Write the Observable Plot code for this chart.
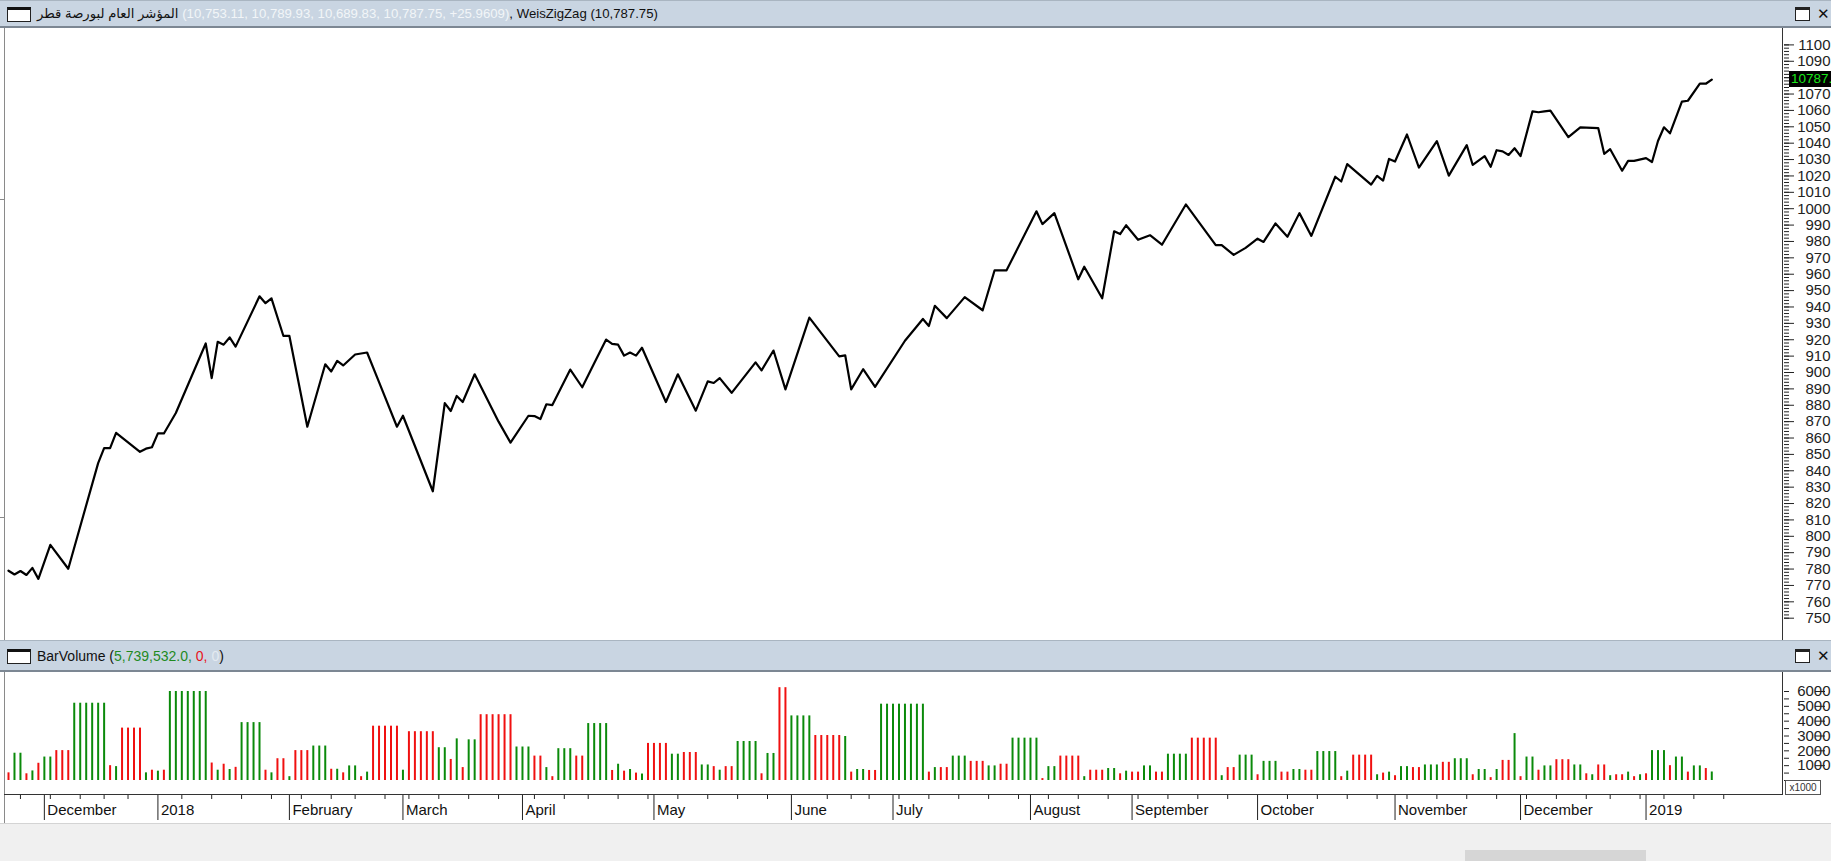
<!DOCTYPE html>
<html lang="en">
<head>
<meta charset="utf-8">
<title>WeisZigZag</title>
<script src="https://cdn.jsdelivr.net/npm/d3@7"></script>
<script src="https://cdn.jsdelivr.net/npm/@observablehq/plot@0.6"></script>
<style>
html, body { margin:0; padding:0; background:#fff; overflow:hidden; }
#root { position:relative; width:1831px; height:861px; overflow:hidden; font-family:"Liberation Sans", Arial, "DejaVu Sans", sans-serif; background:#fff; }
.hdr { position:absolute; left:0; width:1831px; background:#c9d5e2; box-sizing:border-box; border-top:1px solid #a9b5c1; border-bottom:2px solid #7c8793; }
.ico { position:absolute; left:7px; width:24px; height:15px; box-sizing:border-box; border:1px solid #222; border-top:3px solid #111; background:#fff; }
.txt { position:absolute; left:37px; font-size:13.2px; line-height:16px; white-space:nowrap; color:#111; }
.b1 { position:absolute; width:15px; height:14px; box-sizing:border-box; border:1px solid #222; border-top:3px solid #222; background:#fff; }
.b2 { position:absolute; font-size:15px; font-weight:bold; color:#111; line-height:16px; }
.panel { position:absolute; left:0; width:1831px; background:#fff; overflow:hidden; }
.ln { position:absolute; background:#333; }
#tag { position:absolute; left:1789px; width:44px; height:16px; background:#000; color:#19e619; font-size:13.5px; line-height:16px; padding-left:2px; white-space:nowrap; overflow:hidden; }
#unit { position:absolute; left:1785px; top:780px; width:36px; height:15px; box-sizing:border-box; border:1px solid #555; font-size:10px; line-height:13px; color:#333; text-align:center; background:#fff; }
</style>
</head>
<body>
<div id="root">
  <div class="hdr" style="top:0;height:28px">
    <span class="ico" style="top:6px"></span>
    <span class="txt" style="top:5px"><bdi dir="rtl">المؤشر العام لبورصة قطر</bdi><span style="color:#f2f5f8"> (10,753.11, 10,789.93, 10,689.83, 10,787.75, +25.9609)</span>, WeisZigZag (10,787.75)</span>
    <span class="b1" style="left:1795px;top:6px"></span>
    <span class="b2" style="left:1817px;top:5px">✕</span>
  </div>
  <div class="panel" id="main" style="top:28px;height:612px"></div>
  <div class="hdr" style="top:640px;height:32px">
    <span class="ico" style="top:8px"></span>
    <span class="txt" style="top:7px;font-size:14px">BarVolume (<span style="color:#1f8a1f">5,739,532.0,</span> <span style="color:#e8121a">0,</span> <span style="color:#e4eaf0">0</span>)</span>
    <span class="b1" style="left:1795px;top:8px"></span>
    <span class="b2" style="left:1817px;top:7px">✕</span>
  </div>
  <div class="panel" id="vol" style="top:672px;height:151px"></div>
  <div class="ln" style="left:4px;top:28px;width:1px;height:612px;background:#8a8a8a"></div>
  <div class="ln" style="left:0;top:199px;width:4px;height:1px;background:#8a8a8a"></div>
  <div class="ln" style="left:0;top:517px;width:4px;height:1px;background:#8a8a8a"></div>
  <div class="ln" style="left:4px;top:672px;width:1px;height:151px;background:#8a8a8a"></div>
  <div class="ln" style="left:1782px;top:28px;width:1px;height:612px"></div>
  <div class="ln" style="left:1782px;top:672px;width:1px;height:122px"></div>
  <div class="ln" style="left:4px;top:794px;width:1779px;height:1px"></div>
  <div class="ln" style="left:0;top:823px;width:1831px;height:38px;background:#f0f0f0;border-top:1px solid #d4d4d4"></div>
  <div class="ln" style="left:1465px;top:850px;width:181px;height:11px;background:#d6d6d6"></div>
  <div id="tag">10787.</div>
  <div id="unit">x1000</div>
</div>
<script>
// ---- price line: WeisZigZag swing points (bar index, value) ----
const zzBar = [0,1,2,3,4,5,7,10,15,16,17,18,22,23,24,25,26,28,33,34,35,36,37,38,42,43,44,46,47,50,
  53,54,55,56,58,60,62,65,66,71,73,74,75,76,78,82,84,87,88,89,90,91,94,96,98,100,101,102,103,104,
  105,106,110,112,115,117,118,119,121,125,126,128,130,134,139,140,141,143,145,150,153,154,155,157,160,163,165,167,172,173,
  175,179,180,183,185,186,187,189,191,193,197,202,203,205,207,209,210,212,214,216,218,222,223,224,228,229,230,231,232,234,
  236,239,241,244,245,247,248,249,250,251,252,253,255,256,257,258,261,263,266,267,268,270,271,272,274,275,276,277,278,280,
  281,283,284,285];
const zzValue = [7790,7767,7788,7764,7807,7740,7948,7802,8447,8538,8538,8632,8516,8535,8544,8628,8628,8753,9177,8966,9187,9170,9214,9158,9465,9423,9453,9223,9223,8669,
  9050,9006,9071,9043,9110,9122,8941,8669,8736,8275,8813,8765,8857,8820,8989,8700,8572,8736,8734,8716,8806,8801,9018,8910,9057,9201,9175,9170,9103,9122,
  9103,9151,8820,8989,8767,8946,8936,8966,8876,9062,9013,9134,8897,9335,9098,9105,8897,9020,8912,9194,9327,9284,9407,9332,9460,9380,9624,9624,9984,9906,
  9973,9569,9646,9453,9862,9845,9899,9810,9838,9780,10026,9778,9778,9718,9761,9817,9797,9910,9829,9973,9834,10195,10166,10272,10147,10200,10171,10304,10288,10453,
  10251,10413,10202,10388,10267,10321,10256,10357,10350,10328,10369,10321,10594,10589,10594,10599,10437,10497,10492,10335,10363,10232,10292,10292,10309,10285,10413,10497,10460,10654,
  10659,10763,10763,10787.75];

// ---- bar volume (thousands), one per bar ----
const volume = [
  5160,18390,18390,4520,6450,11610,15810,15810,20160,20160,
  20160,52100,52100,52100,52100,52100,52100,10000,9360,35330,
  35330,35330,35330,5160,6940,6290,6940,60000,60000,60000,
  60000,60000,60000,60000,11780,6940,10970,7420,8870,39030,
  39030,39030,39030,6940,5160,14680,14680,2580,20160,20160,
  20160,23230,23230,23230,7580,7580,5160,9840,9840,2580,
  5650,36620,36620,36620,36620,36620,6940,32900,32900,32900,
  32900,32900,22100,22100,14190,28070,8710,27420,27420,44360,
  44360,44360,44360,44360,44360,22580,22580,22580,16450,16450,
  8710,2580,21450,21450,21450,16450,16450,38390,38390,38390,
  38390,6770,10970,6290,7420,5000,4360,25000,25000,25000,
  25000,17740,17740,18870,18870,18870,10480,10480,9360,6940,
  9360,9360,26290,26290,26290,26290,4520,18230,18230,62580,
  62580,43550,43550,43550,43550,30320,30320,30320,30320,30320,
  29680,5650,7420,7420,6770,6770,51450,51450,51450,51450,
  51450,51450,51450,51450,5650,8710,8710,8710,16450,16450,
  16450,12900,12900,12900,9840,9840,10970,10970,28550,28550,
  28550,28550,28550,1290,9360,9360,16450,16450,16450,16450,
  2580,6940,6940,6940,8070,8070,4520,6290,5650,5650,
  9840,9840,5650,5650,17740,17740,17740,17740,28550,28550,
  28550,28550,28550,3230,8710,8710,17100,17100,17100,3870,
  12900,12900,12900,5650,5650,7420,7420,6940,6940,19520,
  19520,19520,19520,2580,6290,17100,17100,17100,17100,3870,
  5000,5650,3230,9360,9360,8710,8710,10480,10480,10480,
  12260,12260,14680,14680,14680,3870,7420,7420,1940,7420,
  13550,13550,31610,2580,15810,15810,6940,9840,9840,14030,
  14030,14030,10480,10480,4520,3870,10480,10480,3230,3870,
  3870,5650,2580,3870,4520,20160,20160,20160,10000,15810,
  15810,5650,9840,9840,8070,5740];
// g = up wave (green), r = down wave (red)
const barDir = ["rggrgrggrr","rggggggrgr","rrrgrgrggg","ggggrgrgrg","gggrgrrgrr",
  "rgggrgrggr","grrrrrgrrr","rrggrgrggr","rrrrrgggrr","grgggrrggg",
  "grgrgrgrrr","rggrrrggrg","rrggggrggr","rggggrrrrr","grggrrgggg",
  "ggggrgrrgg","grrrggrrgg","gggrggrrrr","grrrggrgrr","ggrrggggrr",
  "rrrgrrgggr","gggrrggrrg","gggrgrrrrg","rgrggrrggg","rrgggrggrg",
  "rrgrggrggr","rrggrgrrgr","rgrgrgggrg","grggrg"].join("").split("");

// ---- axis ticks & labels (labels shown as the chart shows them) ----
const priceTicks = [7500,7600,7700,7800,7900,8000,8100,8200,8300,8400,8500,8600,8700,8800,8900,9000,9100,9200,
  9300,9400,9500,9600,9700,9800,9900,10000,10100,10200,10300,10400,10500,10600,10700,10800,10900,11000];
// 10800 is hidden behind the last-value tag in the chart
const priceLabelTicks = [7500,7600,7700,7800,7900,8000,8100,8200,8300,8400,8500,8600,8700,8800,8900,9000,9100,9200,
  9300,9400,9500,9600,9700,9800,9900,10000,10100,10200,10300,10400,10500,10600,10700,10900,11000];
const volTicks = [10000,20000,30000,40000,50000,60000];
const monthNames = ["December","2018","February","March","April","May","June","July","August","September","October","November","December","2019"];
const monthBar = [6,25,47,66,86,108,131,148,171,188,209,232,253,274];
const weekBar = [2,7,12,16,20,29,34,39,44,49,54,58,63,67,72,77,82,88,93,97,102,107,112,117,122,127,137,141,144,149,
  154,159,164,169,174,179,184,189,194,199,204,214,219,224,229,234,239,244,249,254,259,264,268,273,277,282,287];

const zz = zzBar.map((i, k) => ({i, v: zzValue[k]}));
const bars = volume.map((v, i) => ({i, v, dir: barDir[i]}));
const months = monthBar.map((i, k) => ({i, name: monthNames[k]}));

const font = '"Liberation Sans", Arial, sans-serif';
const xDomain = [0, 297];
const shortLabel = d => String(d / 10);

const mainPlot = Plot.plot({
  width: 1831, height: 612,
  marginLeft: 8, marginRight: 48, marginTop: 16.4, marginBottom: 22.3,
  style: {background: "white", fontFamily: font, fontSize: "15px", color: "#222"},
  x: {domain: xDomain, axis: null},
  y: {domain: [7500, 11000], axis: null},
  marks: [
    Plot.axisY({anchor: "right", ticks: 140, tickSize: 5, tickFormat: () => "", label: null, stroke: "#222"}),
    Plot.axisY(priceTicks, {anchor: "right", tickSize: 10, tickFormat: () => "", label: null, stroke: "#222"}),
    Plot.axisY(priceLabelTicks, {anchor: "right", tickSize: 0, tickPadding: 16, textAnchor: "end", dx: 31, label: null,
      fontSize: 15, fill: "#222", tickFormat: shortLabel}),
    Plot.line(zz, {x: "i", y: "v", stroke: "#000", strokeWidth: 2.2})
  ]
});
document.getElementById("main").appendChild(mainPlot);

const lastV = zzValue[zzValue.length - 1];
const ty = mainPlot.scale("y").apply(lastV);
document.getElementById("tag").style.top = (28 + ty - 8) + "px";

const volPlot = Plot.plot({
  width: 1831, height: 151,
  marginLeft: 8, marginRight: 48, marginTop: 19, marginBottom: 43,
  style: {background: "white", fontFamily: font, fontSize: "15px", color: "#222"},
  x: {domain: xDomain, axis: null},
  y: {domain: [0, 60000], axis: null},
  marks: [
    Plot.ruleX(bars.filter(d => d.dir === "g"), {x: "i", y1: 0, y2: "v", stroke: "#0a8a0a", strokeWidth: 2}),
    Plot.ruleX(bars.filter(d => d.dir === "r"), {x: "i", y1: 0, y2: "v", stroke: "#f01010", strokeWidth: 2}),
    Plot.axisY({anchor: "right", ticks: 12, tickSize: 5, tickFormat: () => "", label: null, stroke: "#222"}),
    Plot.axisY(volTicks, {anchor: "right", tickSize: 10, tickPadding: 6, textAnchor: "end", dx: 31, label: null,
      fontSize: 15, fill: "#222", stroke: "#222", tickFormat: shortLabel}),
    Plot.axisX(weekBar, {anchor: "bottom", tickSize: 5, dy: 14, tickFormat: () => "", label: null, stroke: "#222"}),
    Plot.axisX(monthBar, {anchor: "bottom", tickSize: 26, dy: 14, tickFormat: () => "", label: null, stroke: "#222"}),
    Plot.text(months, {x: "i", y: 0, text: "name", dy: 30, dx: 3, textAnchor: "start", fontSize: 15, fill: "#111"})
  ]
});
document.getElementById("vol").appendChild(volPlot);
</script>
</body>
</html>
